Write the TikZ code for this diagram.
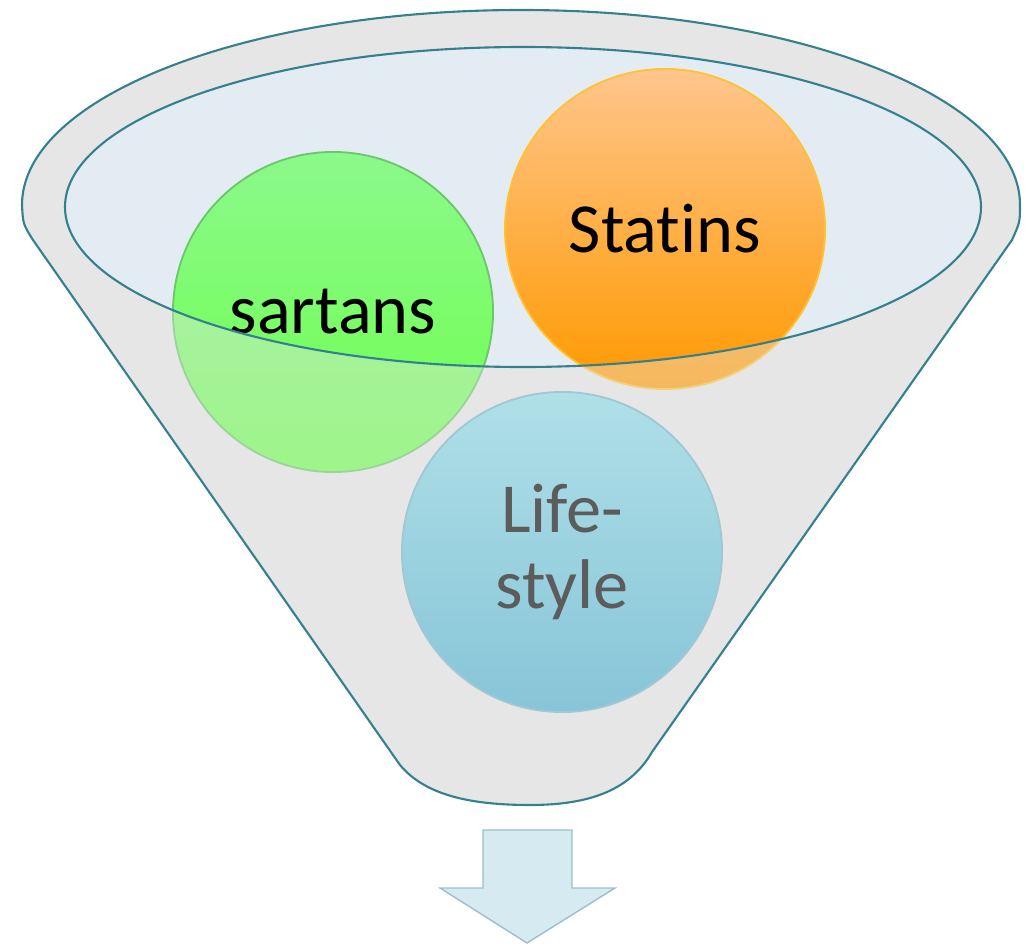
\documentclass[tikz,border=0pt]{standalone}
\usepackage{fontspec}
\setmainfont{Carlito}[Ligatures=NoCommon]
\usetikzlibrary{positioning}

\definecolor{funnelgray}{HTML}{E6E6E6}
\definecolor{funnelline}{HTML}{34808F}
\definecolor{mouthblue}{HTML}{E4ECF3}
\definecolor{arrowblue}{HTML}{D6EAF2}
\definecolor{arrowline}{HTML}{9CBFCB}
\definecolor{bluetop}{HTML}{8CDCE9}
\definecolor{bluebottom}{HTML}{48AFCF}
\definecolor{blueline}{HTML}{70B4C8}

% outline of the funnel body
\newcommand{\funnelbody}{(22,205) arc[start angle=180, end angle=360, x radius=499, y radius=195]
    .. controls (1020,222) .. (1012,240) -- (652,752)
    .. controls (630,790) and (590,805) .. (530,805)
    .. controls (470,805) and (425,795) .. (400,765)
    -- (33,240) .. controls (23,224) .. cycle}
% mouth of the funnel
\newcommand{\funnelmouth}{(523,207) ellipse[x radius=458, y radius=160]}

\begin{document}
\begin{tikzpicture}[
    x=0.025cm, y=-0.025cm,
    % Styles
    ball/.style={circle, minimum size=8cm, inner sep=0pt, line width=1.3pt, align=center, font=\fontsize{50}{54}\selectfont},
    rim/.style={draw=funnelline, line width=1.5pt},
]
\useasboundingbox (0,0) rectangle (1035,947);

% Funnel body and mouth
\fill[funnelgray] \funnelbody;
\fill[mouthblue] \funnelmouth;

% Balls inside the funnel
\node[ball, draw=green!45!gray!80, top color=green!45!white!95!gray, bottom color=green!75!lime!70!white] (sartans) at (333,312) {sartans};
\node[ball, draw=orange!60!yellow!80, top color=orange!45!white, bottom color=orange!80!yellow] (statins) at (665,229) {Statins};
\node[ball, draw=blueline, top color=bluetop, bottom color=bluebottom] (lifestyle) at (562,552) {Life-\\style};

% Tinted glass over the lower part
\fill[funnelgray, fill opacity=0.4, even odd rule] \funnelbody \funnelmouth;
\draw[rim] \funnelbody;
\draw[rim] \funnelmouth;

% Outlet arrow
\filldraw[fill=arrowblue, draw=arrowline, line width=1pt] (483,830) -- (572,830) -- (572,888) -- (615,888)
    -- (527,943) -- (440,888) -- (483,888) -- cycle;

\end{tikzpicture}
\end{document}
